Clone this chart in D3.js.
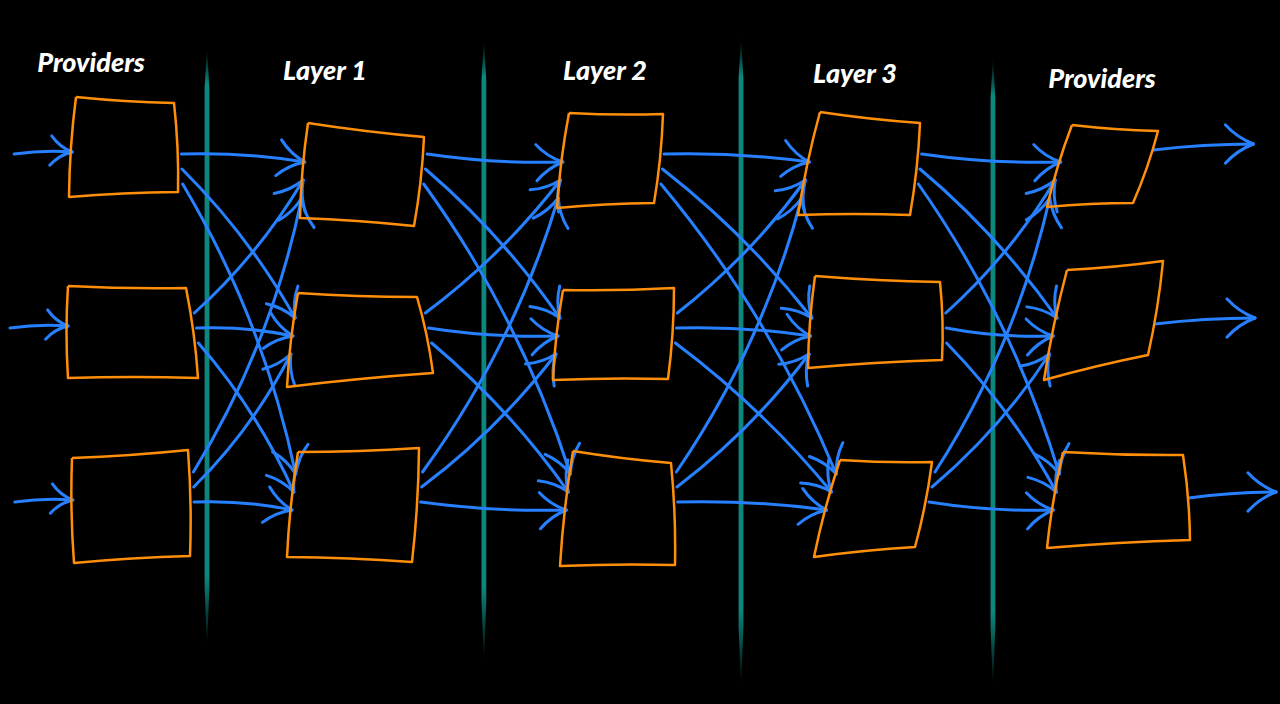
<!DOCTYPE html>
<html>
<head>
<meta charset="utf-8">
<script src="https://cdn.jsdelivr.net/npm/d3@7"></script>
<style>
html, body { margin: 0; background: #000; overflow: hidden; }
.title { font-family: Lato, "Open Sans", sans-serif; font-weight: 900; font-style: italic; font-size: 27px; fill: #fff; }
</style>
</head>
<body>
<div id="chart"></div>
<script>
// layers (columns) and the three nodes in each
const layers = ["Providers", "Layer 1", "Layer 2", "Layer 3", "Providers"];
const rows = [0, 1, 2];

// links between neighbouring layers: [gap, fromRow, toRow]
const links = [
    [0,0,0],[0,0,1],[0,0,2],[0,1,0],[0,1,1],[0,1,2],[0,2,0],[0,2,1],[0,2,2],
    [1,0,0],[1,0,1],[1,0,2],[1,1,0],[1,1,1],[1,1,2],[1,2,0],[1,2,1],[1,2,2],
    [2,0,0],[2,0,1],[2,0,2],[2,1,0],[2,1,1],[2,1,2],[2,2,0],[2,2,1],[2,2,2],
    [3,0,0],[3,0,1],[3,0,2],[3,1,0],[3,1,1],[3,1,2],[3,2,0],[3,2,1],[3,2,2]
];
const inputs = [0, 1, 2];   // arrows coming into the first layer
const outputs = [0, 1, 2];  // arrows leaving the last layer

// separators on the layer axis
const dividers = [0.336, 1.457, 2.498, 3.518];

const width = 1280, height = 704;
const blue = "#2680ff", orange = "#ff8f0a", teal = "#0b877e";

const svg = d3.select("#chart").append("svg").attr("width", width).attr("height", height)
    .style("background", "#000");

const xScale = d3.scaleLinear().domain([0, 4]).range([124, 1112]);
const yScale = d3.scaleLinear().domain([0, 2]).range([158, 506]);

// hand-drawn wobble for every box corner (TL, TR, BR, BL), per layer then row
const halfW = 56, halfH = 48;
const sketch = [
    [[[8,-13],[-6,-7],[-2,-14],[1,-9]], [[0,2],[6,4],[18,-2],[0,-2]], [[4,0],[8,-8],[10,2],[6,9]]],
    [[[-7,13],[-3,27],[-13,20],[-15,12]], [[-17,9],[-10,13],[6,-7],[-28,7]], [[-17,-6],[-8,-10],[-15,8],[-28,3]]],
    [[[7,3],[-11,4],[-20,-3],[-5,2]], [[1,6],[0,4],[-6,-1],[-9,0]], [[11,-7],[-3,5],[1,11],[-2,12]]],
    [[[11,2],[-1,13],[-11,9],[-11,9]], [[6,-8],[19,-2],[21,-20],[-1,-12]], [[31,2],[11,4],[-6,-7],[5,3]]],
    [[[16,15],[-10,21],[-35,-3],[-9,1]], [[11,-14],[-5,-23],[-20,-25],[-12,0]], [[7,-6],[15,-3],[22,-14],[-9,-6]]]
];
const nominal = [[-halfW,-halfH],[halfW,-halfH],[halfW,halfH],[-halfW,halfH]];

function corners(layer, row){
    const cx = xScale(layer), cy = yScale(row);
    return nominal.map((n, i) => [cx + n[0] + sketch[layer][row][i][0], cy + n[1] + sketch[layer][row][i][1]]);
}
// x on a box side at a given y
function edgeX(a, b, y){
    const t = (y - a[1]) / (b[1] - a[1]);
    return a[0] + (b[0] - a[0]) * t;
}
function leftEdge(layer, row, y){ const c = corners(layer, row); return [edgeX(c[0], c[3], y), y]; }
function rightEdge(layer, row, y){ const c = corners(layer, row); return [edgeX(c[1], c[2], y), y]; }

// dividers with faded tapered ends
const defs = svg.append("defs");
const grad = defs.append("linearGradient").attr("id", "fade").attr("x1", 0).attr("y1", 0).attr("x2", 0).attr("y2", 1);
grad.append("stop").attr("offset", "0%").attr("stop-color", teal).attr("stop-opacity", 0);
grad.append("stop").attr("offset", "6%").attr("stop-color", teal).attr("stop-opacity", 1);
grad.append("stop").attr("offset", "88%").attr("stop-color", teal).attr("stop-opacity", 1);
grad.append("stop").attr("offset", "100%").attr("stop-color", teal).attr("stop-opacity", 0);

const dividerSpan = [[48, 648], [40, 662], [38, 688], [58, 688]];
svg.append("g").selectAll("path").data(dividers).enter().append("path")
    .attr("d", (d, i) => {
        const x = xScale(d), y0 = dividerSpan[i][0], y1 = dividerSpan[i][1], w = 2.4;
        return "M" + x + "," + y0 + " L" + (x + w) + "," + (y0 + 40) + " L" + (x + w) + "," + (y1 - 60)
            + " L" + x + "," + y1 + " L" + (x - w) + "," + (y1 - 60) + " L" + (x - w) + "," + (y0 + 40) + " Z";
    })
    .attr("fill", "url(#fade)");

// titles
const titleShift = [-33, -46, -13, -10, -10];
const titleBase = [72, 80, 80, 83, 88];
svg.append("g").selectAll("text").data(layers).enter().append("text")
    .attr("class", "title")
    .attr("x", (d, i) => xScale(i) + titleShift[i])
    .attr("y", (d, i) => titleBase[i])
    .attr("text-anchor", "middle")
    .text(d => d);

// arrows
const arrowG = svg.append("g").attr("fill", "none").attr("stroke", blue)
    .attr("stroke-width", 3).attr("stroke-linecap", "round");

function drawArrow(s, t, bend, head){
    const mx = (s[0] + t[0]) / 2, my = (s[1] + t[1]) / 2;
    const dx = t[0] - s[0], dy = t[1] - s[1];
    const len = Math.hypot(dx, dy);
    const c = [mx - dy / len * bend, my + dx / len * bend];
    arrowG.append("path").attr("d", "M" + s + " Q" + c + " " + t);
    // open hand-drawn head
    const ang = Math.atan2(t[1] - c[1], t[0] - c[0]);
    [-1, 1].forEach(side => {
        const a = ang + Math.PI + side * 0.6;
        const w = [t[0] + Math.cos(a) * head, t[1] + Math.sin(a) * head];
        const wc = [(w[0] + t[0]) / 2 + side * Math.sin(a) * 4, (w[1] + t[1]) / 2 - side * Math.cos(a) * 4];
        arrowG.append("path").attr("d", "M" + w + " Q" + wc + " " + t);
    });
}

links.forEach(l => {
    const gap = l[0], from = l[1], to = l[2];
    const sy = yScale(from) + (to - from) * 15 - 4;
    const ty = yScale(to) + (from - to) * 18 + 4;
    const s = rightEdge(gap, from, sy); s[0] += 5;
    const t = leftEdge(gap + 1, to, ty);
    const bend = from === to ? (gap % 2 ? 6 : -6) : (from - to) * 13;
    drawArrow(s, t, bend, 32);
});

inputs.forEach(r => {
    const y = yScale(r) - 6;
    const t = leftEdge(0, r, y);
    drawArrow([t[0] - 58, y + 2], t, -3, 26);
});

outputs.forEach(r => {
    const y = yScale(r) - 8;
    const s = rightEdge(4, r, y); s[0] += 2;
    drawArrow(s, [Math.min(s[0] + 100, 1276), y - 6], -3, 34);
});

// orange boxes
const bows = [-2, 3, -2, 3];
const boxes = [];
layers.forEach((d, i) => rows.forEach(r => boxes.push({layer: i, row: r})));
svg.append("g").selectAll("path").data(boxes).enter().append("path")
    .attr("d", d => {
        const c = corners(d.layer, d.row);
        let p = "M" + c[0];
        for (let i = 0; i < 4; i++){
            const a = c[i], b = c[(i + 1) % 4];
            const dx = b[0] - a[0], dy = b[1] - a[1], len = Math.hypot(dx, dy);
            const q = [(a[0] + b[0]) / 2 + dy / len * bows[i], (a[1] + b[1]) / 2 - dx / len * bows[i]];
            p += " Q" + q + " " + b;
        }
        return p;
    })
    .attr("fill", "none")
    .attr("stroke", orange)
    .attr("stroke-width", 2.5)
    .attr("stroke-linejoin", "round");
</script>
</body>
</html>
